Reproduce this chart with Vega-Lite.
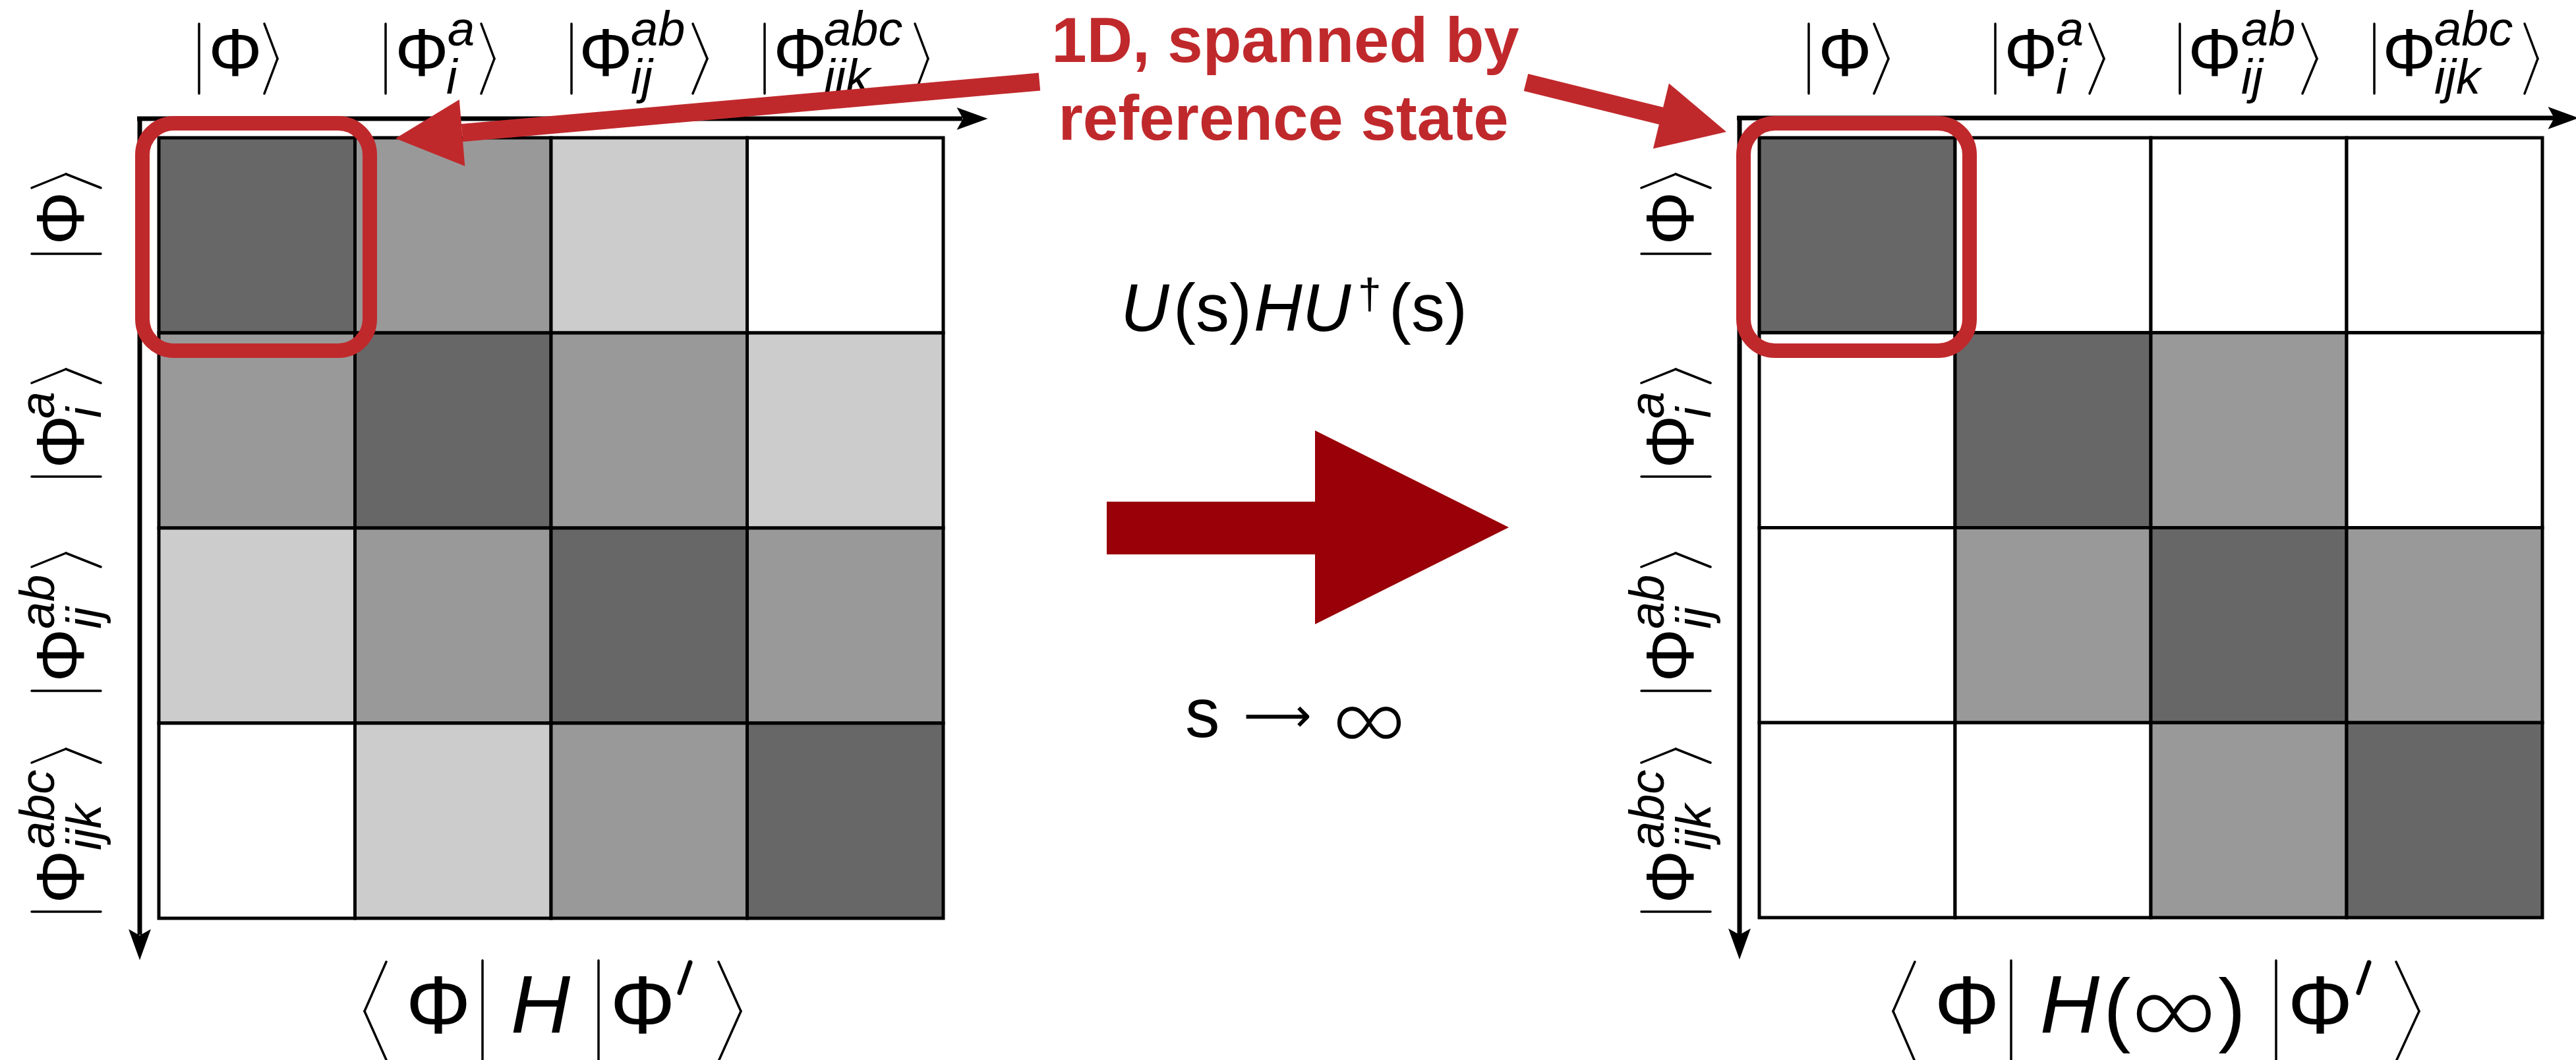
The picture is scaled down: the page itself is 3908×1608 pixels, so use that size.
{
  "$schema": "https://vega.github.io/schema/vega-lite/v6.json",
  "width": 3908,
  "height": 1608,
  "padding": 0,
  "autosize": {"type": "none"},
  "background": "white",
  "config": {"view": {"stroke": null}, "axis": {"disable": true}, "legend": {"disable": true}},
  "datasets": {
    "cells": [
      {"panel": "H", "row": 0, "col": 0, "level": 3}, {"panel": "H", "row": 0, "col": 1, "level": 2}, {"panel": "H", "row": 0, "col": 2, "level": 1}, {"panel": "H", "row": 0, "col": 3, "level": 0},
      {"panel": "H", "row": 1, "col": 0, "level": 2}, {"panel": "H", "row": 1, "col": 1, "level": 3}, {"panel": "H", "row": 1, "col": 2, "level": 2}, {"panel": "H", "row": 1, "col": 3, "level": 1},
      {"panel": "H", "row": 2, "col": 0, "level": 1}, {"panel": "H", "row": 2, "col": 1, "level": 2}, {"panel": "H", "row": 2, "col": 2, "level": 3}, {"panel": "H", "row": 2, "col": 3, "level": 2},
      {"panel": "H", "row": 3, "col": 0, "level": 0}, {"panel": "H", "row": 3, "col": 1, "level": 1}, {"panel": "H", "row": 3, "col": 2, "level": 2}, {"panel": "H", "row": 3, "col": 3, "level": 3},
      {"panel": "Hinf", "row": 0, "col": 0, "level": 3}, {"panel": "Hinf", "row": 0, "col": 1, "level": 0}, {"panel": "Hinf", "row": 0, "col": 2, "level": 0}, {"panel": "Hinf", "row": 0, "col": 3, "level": 0},
      {"panel": "Hinf", "row": 1, "col": 0, "level": 0}, {"panel": "Hinf", "row": 1, "col": 1, "level": 3}, {"panel": "Hinf", "row": 1, "col": 2, "level": 2}, {"panel": "Hinf", "row": 1, "col": 3, "level": 0},
      {"panel": "Hinf", "row": 2, "col": 0, "level": 0}, {"panel": "Hinf", "row": 2, "col": 1, "level": 2}, {"panel": "Hinf", "row": 2, "col": 2, "level": 3}, {"panel": "Hinf", "row": 2, "col": 3, "level": 2},
      {"panel": "Hinf", "row": 3, "col": 0, "level": 0}, {"panel": "Hinf", "row": 3, "col": 1, "level": 0}, {"panel": "Hinf", "row": 3, "col": 2, "level": 2}, {"panel": "Hinf", "row": 3, "col": 3, "level": 3}
    ],
    "axisLines": [
      {"x": 208, "y": 180, "x2": 1460, "y2": 180},
      {"x": 212, "y": 177, "x2": 212, "y2": 1418},
      {"x": 2635, "y": 179, "x2": 3885, "y2": 179},
      {"x": 2639, "y": 176, "x2": 2639, "y2": 1418}
    ],
    "hHeads": [{"x": 1475, "y": 180}, {"x": 3889, "y": 179}],
    "vHeads": [{"x": 212, "y": 1433}, {"x": 2639, "y": 1432}],
    "thin": [
      {"x": 302, "y": 36, "x2": 302, "y2": 142}, {"x": 585, "y": 36, "x2": 585, "y2": 142}, {"x": 867, "y": 36, "x2": 867, "y2": 142}, {"x": 1160, "y": 36, "x2": 1160, "y2": 142},
      {"x": 2744, "y": 36, "x2": 2744, "y2": 142}, {"x": 3027, "y": 36, "x2": 3027, "y2": 142}, {"x": 3307, "y": 36, "x2": 3307, "y2": 142}, {"x": 3602, "y": 36, "x2": 3602, "y2": 142},
      {"x": 401, "y": 36, "x2": 421, "y2": 89}, {"x": 421, "y": 89, "x2": 401, "y2": 142},
      {"x": 730, "y": 36, "x2": 750, "y2": 89}, {"x": 750, "y": 89, "x2": 730, "y2": 142},
      {"x": 1051, "y": 36, "x2": 1073, "y2": 89}, {"x": 1073, "y": 89, "x2": 1051, "y2": 142},
      {"x": 1388, "y": 36, "x2": 1408, "y2": 89}, {"x": 1408, "y": 89, "x2": 1388, "y2": 142},
      {"x": 2843, "y": 36, "x2": 2865, "y2": 89}, {"x": 2865, "y": 89, "x2": 2843, "y2": 142},
      {"x": 3170, "y": 36, "x2": 3192, "y2": 89}, {"x": 3192, "y": 89, "x2": 3170, "y2": 142},
      {"x": 3493, "y": 36, "x2": 3515, "y2": 89}, {"x": 3515, "y": 89, "x2": 3493, "y2": 142},
      {"x": 3830, "y": 36, "x2": 3850, "y2": 89}, {"x": 3850, "y": 89, "x2": 3830, "y2": 142},
      {"x": 48, "y": 385, "x2": 153, "y2": 385}, {"x": 48, "y": 723, "x2": 153, "y2": 723}, {"x": 48, "y": 1048, "x2": 153, "y2": 1048}, {"x": 48, "y": 1383, "x2": 153, "y2": 1383},
      {"x": 2490, "y": 385, "x2": 2595, "y2": 385}, {"x": 2490, "y": 723, "x2": 2595, "y2": 723}, {"x": 2490, "y": 1048, "x2": 2595, "y2": 1048}, {"x": 2490, "y": 1383, "x2": 2595, "y2": 1383},
      {"x": 48, "y": 285, "x2": 100, "y2": 264}, {"x": 100, "y": 264, "x2": 153, "y2": 285},
      {"x": 48, "y": 581, "x2": 100, "y2": 560}, {"x": 100, "y": 560, "x2": 153, "y2": 581},
      {"x": 48, "y": 860, "x2": 100, "y2": 839}, {"x": 100, "y": 839, "x2": 153, "y2": 860},
      {"x": 48, "y": 1157, "x2": 100, "y2": 1136}, {"x": 100, "y": 1136, "x2": 153, "y2": 1157},
      {"x": 2490, "y": 285, "x2": 2542, "y2": 264}, {"x": 2542, "y": 264, "x2": 2595, "y2": 285},
      {"x": 2490, "y": 581, "x2": 2542, "y2": 560}, {"x": 2542, "y": 560, "x2": 2595, "y2": 581},
      {"x": 2490, "y": 860, "x2": 2542, "y2": 839}, {"x": 2542, "y": 839, "x2": 2595, "y2": 860},
      {"x": 2490, "y": 1157, "x2": 2542, "y2": 1136}, {"x": 2542, "y": 1136, "x2": 2595, "y2": 1157},
      {"x": 586, "y": 1459, "x2": 553, "y2": 1534}, {"x": 553, "y": 1534, "x2": 587, "y2": 1610},
      {"x": 732, "y": 1457, "x2": 732, "y2": 1610}, {"x": 908, "y": 1457, "x2": 908, "y2": 1610},
      {"x": 1090, "y": 1459, "x2": 1124, "y2": 1534}, {"x": 1124, "y": 1534, "x2": 1090, "y2": 1610},
      {"x": 2905, "y": 1459, "x2": 2872, "y2": 1534}, {"x": 2872, "y": 1534, "x2": 2905, "y2": 1610},
      {"x": 3051, "y": 1457, "x2": 3051, "y2": 1610}, {"x": 3453, "y": 1457, "x2": 3453, "y2": 1610},
      {"x": 3635, "y": 1459, "x2": 3670, "y2": 1534}, {"x": 3670, "y": 1534, "x2": 3635, "y2": 1610}
    ],
    "primes": [
      {"x": 1047, "y": 1460, "x2": 1031, "y2": 1506},
      {"x": 3594, "y": 1460, "x2": 3578, "y2": 1506}
    ],
    "phiTop": [
      {"t": "Φ", "x": 357, "y": 115}, {"t": "Φ", "x": 640, "y": 115}, {"t": "Φ", "x": 919, "y": 115}, {"t": "Φ", "x": 1214, "y": 115},
      {"t": "Φ", "x": 2799, "y": 115}, {"t": "Φ", "x": 3081, "y": 115}, {"t": "Φ", "x": 3360, "y": 115}, {"t": "Φ", "x": 3655, "y": 115}
    ],
    "scriptsTop": [
      {"t": "a", "x": 679, "y": 69}, {"t": "ab", "x": 957, "y": 69}, {"t": "abc", "x": 1250, "y": 69},
      {"t": "i", "x": 677, "y": 142}, {"t": "ij", "x": 957, "y": 142}, {"t": "ijk", "x": 1250, "y": 142},
      {"t": "a", "x": 3120, "y": 69}, {"t": "ab", "x": 3400, "y": 69}, {"t": "abc", "x": 3693, "y": 69},
      {"t": "i", "x": 3119, "y": 142}, {"t": "ij", "x": 3400, "y": 142}, {"t": "ijk", "x": 3693, "y": 142}
    ],
    "phiRot": [
      {"t": "Φ", "x": 127, "y": 331}, {"t": "Φ", "x": 127, "y": 670}, {"t": "Φ", "x": 127, "y": 994}, {"t": "Φ", "x": 127, "y": 1330},
      {"t": "Φ", "x": 2569, "y": 331}, {"t": "Φ", "x": 2569, "y": 670}, {"t": "Φ", "x": 2569, "y": 994}, {"t": "Φ", "x": 2569, "y": 1330}
    ],
    "scriptsRot": [
      {"t": "a", "x": 82, "y": 635}, {"t": "ab", "x": 82, "y": 954}, {"t": "abc", "x": 82, "y": 1287},
      {"t": "i", "x": 153, "y": 634}, {"t": "ij", "x": 153, "y": 954}, {"t": "ijk", "x": 153, "y": 1290},
      {"t": "a", "x": 2524, "y": 635}, {"t": "ab", "x": 2524, "y": 954}, {"t": "abc", "x": 2524, "y": 1287},
      {"t": "i", "x": 2595, "y": 634}, {"t": "ij", "x": 2595, "y": 954}, {"t": "ijk", "x": 2595, "y": 1290}
    ],
    "bottomUpright": [
      {"t": "Φ", "x": 665, "y": 1567}, {"t": "Φ", "x": 975, "y": 1567},
      {"t": "Φ", "x": 2984, "y": 1567}, {"t": "Φ", "x": 3520, "y": 1567},
      {"t": "(", "x": 3212, "y": 1572}, {"t": ")", "x": 3386, "y": 1572}
    ],
    "bottomItalic": [
      {"t": "H", "x": 820, "y": 1567}, {"t": "H", "x": 3140, "y": 1567}
    ],
    "bottomInf": [{"t": "∞", "x": 3298, "y": 1592}],
    "formulaItalic": [{"t": "U", "x": 1700, "y": 502}, {"t": "HU", "x": 1902, "y": 502}],
    "formulaRoman": [{"t": "(s)", "x": 1780, "y": 502}, {"t": "(s)", "x": 2107, "y": 502}],
    "dagger": [{"t": "†", "x": 2060, "y": 468}],
    "limitS": [{"t": "s", "x": 1798, "y": 1118}],
    "limitArrow": [{"t": "⟶", "x": 1938, "y": 1110}],
    "limitInf": [{"t": "∞", "x": 2077, "y": 1143}],
    "bigShaft": [{"x": 1679, "x2": 2000, "y": 761, "y2": 841}],
    "bigHead": [{"x": 2142, "y": 800}],
    "redBoxes": [
      {"x": 216, "x2": 561, "y": 187, "y2": 532},
      {"x": 2645, "x2": 2988, "y": 187, "y2": 532}
    ],
    "redShafts": [
      {"x": 1577, "y": 124, "x2": 701, "y2": 201.5},
      {"x": 2315, "y": 125, "x2": 2521, "y2": 176}
    ],
    "redHeadLeft": [{"x": 650.5, "y": 205.7}],
    "redHeadRight": [{"x": 2569.5, "y": 188}],
    "redText": [
      {"t": "1D, spanned by", "x": 1950, "y": 94},
      {"t": "reference state", "x": 1947, "y": 212}
    ]
  },
  "layer": [
    {
      "data": {"name": "cells"},
      "transform": [{"filter": "datum.panel == 'H'"}],
      "mark": {"type": "rect", "stroke": "black", "strokeWidth": 5},
      "encoding": {
        "x": {"field": "col", "type": "ordinal", "axis": null, "scale": {"range": [241, 1431], "paddingInner": 0, "paddingOuter": 0}},
        "y": {"field": "row", "type": "ordinal", "axis": null, "scale": {"range": [209, 1393], "paddingInner": 0, "paddingOuter": 0}},
        "fill": {"field": "level", "type": "ordinal", "legend": null, "scale": {"domain": [0, 1, 2, 3], "range": ["#ffffff", "#cccccc", "#999999", "#676767"]}}
      }
    },
    {
      "data": {"name": "cells"},
      "transform": [{"filter": "datum.panel == 'Hinf'"}],
      "mark": {"type": "rect", "stroke": "black", "strokeWidth": 5},
      "encoding": {
        "x": {"field": "col", "type": "ordinal", "axis": null, "scale": {"range": [2669, 3857], "paddingInner": 0, "paddingOuter": 0}},
        "y": {"field": "row", "type": "ordinal", "axis": null, "scale": {"range": [209, 1392], "paddingInner": 0, "paddingOuter": 0}},
        "fill": {"field": "level", "type": "ordinal", "legend": null, "scale": {"domain": [0, 1, 2, 3], "range": ["#ffffff", "#cccccc", "#999999", "#676767"]}}
      }
    },
    {
      "encoding": {
        "x": {"field": "x", "type": "quantitative", "axis": null, "scale": {"domain": [0, 3908], "nice": false, "zero": false}},
        "y": {"field": "y", "type": "quantitative", "axis": null, "scale": {"domain": [0, 1608], "nice": false, "zero": false, "reverse": true}}
      },
      "layer": [
        {"data": {"name": "axisLines"}, "mark": {"type": "rule", "color": "black", "strokeWidth": 7, "strokeCap": "butt"}, "encoding": {"x2": {"field": "x2"}, "y2": {"field": "y2"}}},
        {"data": {"name": "hHeads"}, "mark": {"type": "point", "shape": "M-1,-0.72L1,0L-1,0.72L-0.6,0Z", "size": 2209, "filled": true, "color": "black", "opacity": 1, "strokeWidth": 0, "angle": 0}},
        {"data": {"name": "vHeads"}, "mark": {"type": "point", "shape": "M-1,-0.72L1,0L-1,0.72L-0.6,0Z", "size": 2209, "filled": true, "color": "black", "opacity": 1, "strokeWidth": 0, "angle": 90}},
        {"data": {"name": "thin"}, "mark": {"type": "rule", "color": "black", "strokeWidth": 3.5, "strokeCap": "round"}, "encoding": {"x2": {"field": "x2"}, "y2": {"field": "y2"}}},
        {"data": {"name": "primes"}, "mark": {"type": "rule", "color": "black", "strokeWidth": 7, "strokeCap": "round"}, "encoding": {"x2": {"field": "x2"}, "y2": {"field": "y2"}}},
        {"data": {"name": "phiTop"}, "mark": {"type": "text", "font": "Liberation Sans", "fontSize": 102, "align": "center", "baseline": "alphabetic", "color": "black"}, "encoding": {"text": {"field": "t"}}},
        {"data": {"name": "scriptsTop"}, "mark": {"type": "text", "font": "Liberation Sans", "fontStyle": "italic", "fontSize": 74, "align": "left", "baseline": "alphabetic", "color": "black"}, "encoding": {"text": {"field": "t"}}},
        {"data": {"name": "phiRot"}, "mark": {"type": "text", "font": "Liberation Sans", "fontSize": 102, "align": "center", "baseline": "alphabetic", "angle": 270, "color": "black"}, "encoding": {"text": {"field": "t"}}},
        {"data": {"name": "scriptsRot"}, "mark": {"type": "text", "font": "Liberation Sans", "fontStyle": "italic", "fontSize": 74, "align": "left", "baseline": "alphabetic", "angle": 270, "color": "black"}, "encoding": {"text": {"field": "t"}}},
        {"data": {"name": "bottomUpright"}, "mark": {"type": "text", "font": "Liberation Sans", "fontSize": 124, "align": "center", "baseline": "alphabetic", "color": "black"}, "encoding": {"text": {"field": "t"}}},
        {"data": {"name": "bottomItalic"}, "mark": {"type": "text", "font": "Liberation Sans", "fontStyle": "italic", "fontSize": 125, "align": "center", "baseline": "alphabetic", "color": "black"}, "encoding": {"text": {"field": "t"}}},
        {"data": {"name": "bottomInf"}, "mark": {"type": "text", "font": "Lato", "fontWeight": 300, "fontSize": 184, "align": "center", "baseline": "alphabetic", "color": "black"}, "encoding": {"text": {"field": "t"}}},
        {"data": {"name": "formulaItalic"}, "mark": {"type": "text", "font": "Liberation Sans", "fontStyle": "italic", "fontSize": 102, "align": "left", "baseline": "alphabetic", "color": "black"}, "encoding": {"text": {"field": "t"}}},
        {"data": {"name": "formulaRoman"}, "mark": {"type": "text", "font": "Liberation Sans", "fontSize": 102, "align": "left", "baseline": "alphabetic", "color": "black"}, "encoding": {"text": {"field": "t"}}},
        {"data": {"name": "dagger"}, "mark": {"type": "text", "font": "Liberation Sans", "fontSize": 64, "align": "left", "baseline": "alphabetic", "color": "black"}, "encoding": {"text": {"field": "t"}}},
        {"data": {"name": "limitS"}, "mark": {"type": "text", "font": "Liberation Sans", "fontSize": 105, "align": "left", "baseline": "alphabetic", "color": "black"}, "encoding": {"text": {"field": "t"}}},
        {"data": {"name": "limitArrow"}, "mark": {"type": "text", "font": "DejaVu Sans", "fontSize": 72, "align": "center", "baseline": "alphabetic", "color": "black"}, "encoding": {"text": {"field": "t"}}},
        {"data": {"name": "limitInf"}, "mark": {"type": "text", "font": "Lato", "fontWeight": 300, "fontSize": 158, "align": "center", "baseline": "alphabetic", "color": "black"}, "encoding": {"text": {"field": "t"}}},
        {"data": {"name": "bigShaft"}, "mark": {"type": "rect", "color": "#990008"}, "encoding": {"x2": {"field": "x2"}, "y2": {"field": "y2"}}},
        {"data": {"name": "bigHead"}, "mark": {"type": "point", "shape": "M-1,-1L1,0L-1,1Z", "size": 86436, "filled": true, "color": "#990008", "opacity": 1, "strokeWidth": 0}},
        {"data": {"name": "redBoxes"}, "mark": {"type": "rect", "fill": null, "fillOpacity": 0, "stroke": "#c0292c", "strokeWidth": 22, "cornerRadius": 48}, "encoding": {"x2": {"field": "x2"}, "y2": {"field": "y2"}}},
        {"data": {"name": "redShafts"}, "mark": {"type": "rule", "color": "#c0292c", "strokeWidth": 27, "strokeCap": "butt"}, "encoding": {"x2": {"field": "x2"}, "y2": {"field": "y2"}}},
        {"data": {"name": "redHeadLeft"}, "mark": {"type": "point", "shape": "M-1,-1L1,0L-1,1Z", "size": 10300, "filled": true, "color": "#c0292c", "opacity": 1, "strokeWidth": 0, "angle": 175.2}},
        {"data": {"name": "redHeadRight"}, "mark": {"type": "point", "shape": "M-1,-1L1,0L-1,1Z", "size": 10400, "filled": true, "color": "#c0292c", "opacity": 1, "strokeWidth": 0, "angle": 13.6}},
        {"data": {"name": "redText"}, "mark": {"type": "text", "font": "Liberation Sans", "fontWeight": "bold", "fontSize": 96, "align": "center", "baseline": "alphabetic", "color": "#c0292c"}, "encoding": {"text": {"field": "t"}}}
      ]
    }
  ],
  "resolve": {"scale": {"x": "independent", "y": "independent", "fill": "shared"}}
}
